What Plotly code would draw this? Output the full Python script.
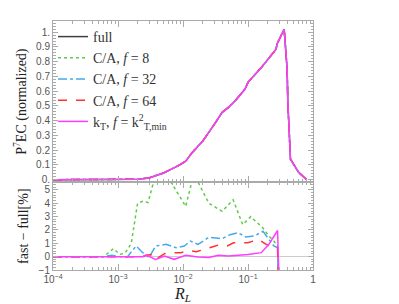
import plotly.graph_objects as go

# ---------------- data ----------------
# top panel: full curve
R_full = [1e-4, 1e-3, 1.5e-3, 2e-3, 3e-3, 4e-3, 5e-3, 6.5e-3, 8.5e-3, 1.1e-2, 1.4e-2,
          2e-2, 2.5e-2, 3.2e-2, 4e-2, 4.5e-2, 5e-2, 6.5e-2, 9e-2, 0.1, 0.16, 0.27,
          0.28, 0.36, 0.40, 0.41, 0.43, 0.45, 0.6, 0.75, 0.8]
P_full = [0, 0, 0.001, 0.003, 0.012, 0.03, 0.045, 0.07, 0.095, 0.125, 0.187,
          0.26, 0.32, 0.39, 0.457, 0.475, 0.49, 0.54, 0.615, 0.66, 0.76, 0.885,
          0.92, 1.02, 0.75, 0.525, 0.30, 0.14, 0.05, 0.007, 0.0]

# bottom panel: relative differences [%]
R_f8 = [1e-4, 6e-4, 8.5e-4, 1.07e-3, 1.3e-3, 1.6e-3, 2.0e-3, 2.4e-3, 2.9e-3, 3.8e-3,
        4.8e-3, 5.8e-3, 6.9e-3, 1.1e-2, 1.35e-2, 1.5e-2, 1.7e-2, 2.5e-2, 4e-2, 5e-2,
        5.9e-2, 8.3e-2, 0.11, 0.17, 0.21, 0.25, 0.285, 0.30]
D_f8 = [0, 0, 0.6, 0.17, 0.3, 1.0, 4.0, 4.15, 4.05, 6.2,
        6.8, 6.0, 5.4, 3.77, 5.5, 6.2, 5.6, 4.0, 3.4, 3.9,
        4.26, 2.4, 3.0, 2.15, 1.55, 1.17, 0.8, -4]

R_f32 = [1e-4, 6e-4, 8e-4, 1.1e-3, 1.4e-3, 1.9e-3, 2.4e-3, 3e-3, 3.8e-3, 5.5e-3,
         7.8e-3, 1.05e-2, 1.3e-2, 1.7e-2, 2.5e-2, 4e-2, 5.3e-2, 7e-2, 9.3e-2, 0.125,
         0.17, 0.2, 0.25, 0.285, 0.30]
D_f32 = [0, 0, 0.1, 0, 0, 0.8, 0.3, -0.07, 0.8, 0.92,
         0.67, 0.8, 1.17, 0.92, 1.45, 1.35, 1.65, 1.8, 1.47, 1.55,
         1.9, 1.4, 0.8, 0.67, -4]

R_f64 = [1e-4, 2.4e-3, 2.8e-3, 3.4e-3, 3.8e-3, 5.2e-3, 7e-3, 9.3e-3, 1.2e-2, 1.6e-2,
         2.8e-2, 3.5e-2, 4.8e-2, 6e-2, 0.1, 0.145, 0.175, 0.21, 0.25, 0.285, 0.30]
D_f64 = [0, 0, 0.12, 0.15, -0.2, 0.22, 0.3, 0.3, 0.47, 0.37,
         0.72, 0.87, 0.8, 1.04, 1.04, 1.3, 1.04, 0.8, 0.67, 0.6, -4]

R_kt = [1e-4, 2.4e-3, 2.7e-3, 3.8e-3, 5.2e-3, 7.3e-3, 1.1e-2, 1.7e-2, 2.5e-2, 3.5e-2,
        5e-2, 7e-2, 0.1, 0.16, 0.21, 0.285, 0.31]
D_kt = [0, 0, 0.12, -0.2, 0.05, -0.2, 0.1, -0.03, -0.07, 0.1,
        0.05, 0.1, 0.17, 0.3, 0.92, 1.96, -4]

x_tickvals = [1e-4, 1e-3, 1e-2, 1e-1, 1]
x_ticktext = ["10<sup>−4</sup>", "10<sup>−3</sup>", "10<sup>−2</sup>", "10<sup>−1</sup>", "1"]
top_tickvals = [0, 0.1, 0.2, 0.3, 0.4, 0.5, 0.6, 0.7, 0.8, 0.9, 1.0]
top_ticktext = ["0.", "0.1", "0.2", "0.3", "0.4", "0.5", "0.6", "0.7", "0.8", "0.9", "1."]
bot_tickvals = [-1, 0, 1, 2, 3, 4, 5]
bot_ticktext = ["−1", "0", "1", "2", "3", "4", "5"]

names = ["full", "C/A, <i>f</i> = 8", "C/A, <i>f</i> = 32", "C/A, <i>f</i> = 64",
         "k<sub>T</sub>, <i>f</i> = k<sup>2</sup><sub>T,min</sub>"]

# ---------------- style ----------------
colors = ["#404040", "#5ecb4a", "#49a8ea", "#ff3030", "#ff3cff"]
dashes = ["solid", "dot", "dashdot", "dash", "solid"]
SERIF = "Liberation Serif"

minor_vals = [k * 10.0 ** e for e in range(-4, 0) for k in range(2, 10)]

fig = go.Figure()

# top panel
for i in range(5):
    fig.add_trace(go.Scatter(x=R_full, y=P_full, mode="lines", name=names[i],
                             line=dict(color=colors[i], dash=dashes[i], width=1.5),
                             xaxis="x", yaxis="y", showlegend=True))

# bottom panel
for i, (rx, dy) in enumerate([(R_f8, D_f8), (R_f32, D_f32), (R_f64, D_f64), (R_kt, D_kt)], start=1):
    fig.add_trace(go.Scatter(x=rx, y=dy, mode="lines", showlegend=False,
                             line=dict(color=colors[i], dash=dashes[i], width=1.5),
                             xaxis="x2", yaxis="y2"))

tickfont = dict(family="Liberation Sans", size=10, color="#555")
axcol = "#aaaaaa"
common_x = dict(type="log", range=[-4, 0], tickmode="array", tickvals=x_tickvals,
                ticks="inside", ticklen=6, tickcolor=axcol, showline=True, linecolor=axcol,
                mirror="allticks", showgrid=False, zeroline=False,
                minor=dict(tickvals=minor_vals, ticks="inside", ticklen=3, tickcolor=axcol,
                           showgrid=False))

fig.update_layout(
    width=399, height=304,
    margin=dict(l=42, r=94, t=12, b=42),
    paper_bgcolor="white", plot_bgcolor="white",
    xaxis=dict(**common_x, domain=[0, 1], anchor="y", showticklabels=False,
               ticktext=x_ticktext),
    xaxis2=dict(**common_x, domain=[0, 1], anchor="y2", matches="x",
                ticktext=x_ticktext, tickfont=tickfont,
                title=dict(text="<i>R</i><sub><i>L</i></sub>", standoff=2,
                           font=dict(family=SERIF, size=16, color="#222"))),
    yaxis=dict(domain=[0.352, 1], range=[-0.018, 1.076], tickmode="array",
               tickvals=top_tickvals, ticktext=top_ticktext, tickfont=tickfont,
               ticks="inside", ticklen=5, tickcolor=axcol, showline=True, linecolor=axcol,
               mirror="allticks", showgrid=False, zeroline=False,
               minor=dict(dtick=0.02, ticks="inside", ticklen=2.5, tickcolor=axcol, showgrid=False),
               title=dict(text="P<sup>7</sup>EC (normalized)", standoff=6,
                          font=dict(family=SERIF, size=14, color="#222"))),
    yaxis2=dict(domain=[0, 0.352], range=[-1.0, 5.57], tickmode="array",
                tickvals=bot_tickvals, ticktext=bot_ticktext, tickfont=tickfont,
                ticks="inside", ticklen=5, tickcolor=axcol, showline=True, linecolor=axcol,
                mirror="allticks", showgrid=False, zeroline=True, zerolinecolor="#cccccc",
                zerolinewidth=1,
                minor=dict(dtick=0.2, ticks="inside", ticklen=2.5, tickcolor=axcol, showgrid=False),
                title=dict(text="fast − full[%]", standoff=6,
                           font=dict(family=SERIF, size=14, color="#222"))),
    legend=dict(x=0.0, y=1.0, xanchor="left", yanchor="top", bgcolor="rgba(0,0,0,0)",
                font=dict(family=SERIF, size=14, color="#333"),
                itemwidth=30, tracegroupgap=0),
    showlegend=True,
)

fig.write_html("out.html")
